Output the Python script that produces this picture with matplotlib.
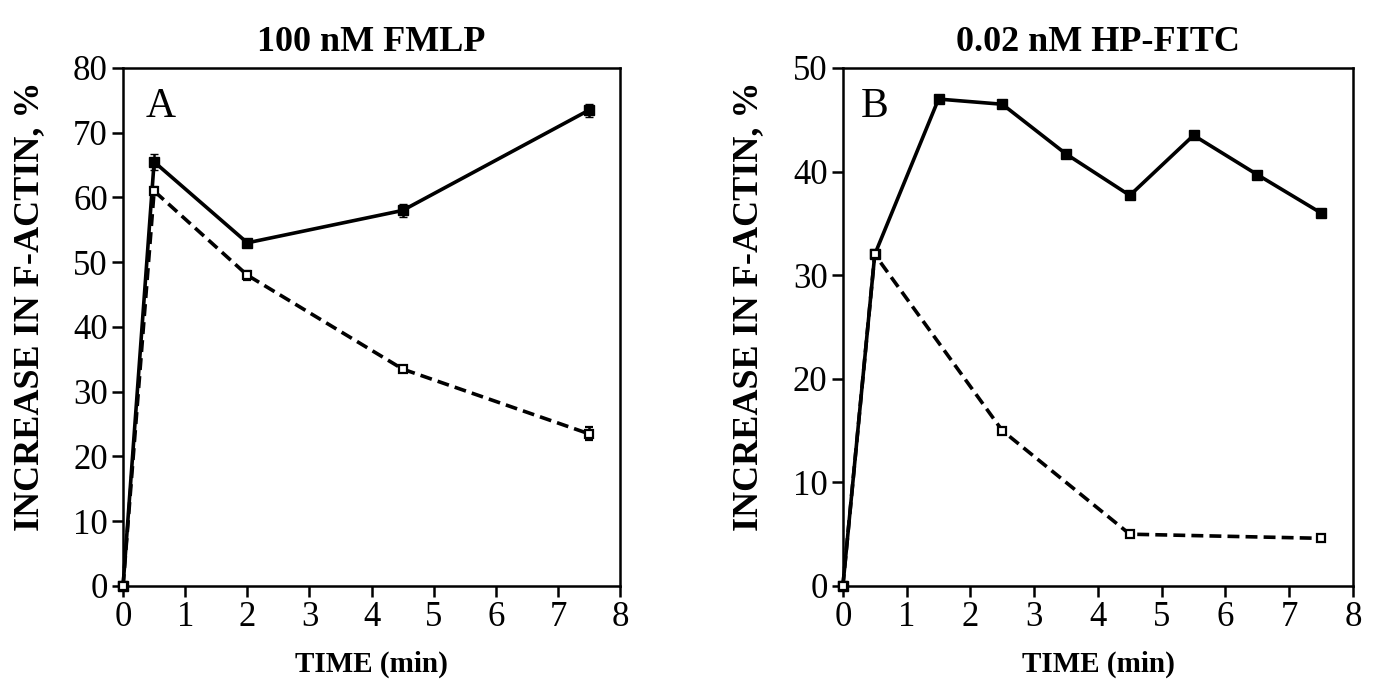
import matplotlib
matplotlib.use("Agg")
import matplotlib.pyplot as plt

# Panel A data
a_time_solid = [0, 0.5, 2, 4.5, 7.5]
a_solid = [0, 65.5, 53, 58, 73.5]
a_solid_err = [0, 1.2, 0.5, 1.0, 1.0]
a_time_dash = [0, 0.5, 2, 4.5, 7.5]
a_dash = [0, 61, 48, 33.5, 23.5]
a_dash_err = [0, 0.6, 0.7, 0.5, 1.0]

# Panel B data
b_time_solid = [0, 0.5, 1.5, 2.5, 3.5, 4.5, 5.5, 6.5, 7.5]
b_solid = [0, 32, 47, 46.5, 41.7, 37.7, 43.5, 39.7, 36]
b_time_dash = [0, 0.5, 2.5, 4.5, 7.5]
b_dash = [0, 32, 15, 5, 4.6]

titles = ["100 nM FMLP", "0.02 nM HP-FITC"]
panel_letters = ["A", "B"]
ylabel = "INCREASE IN F-ACTIN, %"
xlabel = "TIME (min)"

plt.rcParams['font.family'] = ['Liberation Serif', 'DejaVu Serif']
fig = plt.figure(figsize=(13.75, 6.84), dpi=100)
axA = fig.add_axes([0.0895, 0.1433, 0.3615, 0.7573])
axB = fig.add_axes([0.613, 0.1433, 0.371, 0.7573])

lw = 2.6
dash = (0, (3.3, 1.7))
for ax in (axA, axB):
    ax.set_xlim(0, 8)
    ax.set_xticks(range(0, 9))
    for s in ax.spines.values():
        s.set_linewidth(1.8)
    ax.tick_params(direction='out', length=8, width=1.8, labelsize=25, pad=3)
    ax.set_xlabel(xlabel, fontsize=21, fontweight='bold', labelpad=12)
    ax.set_ylabel(ylabel, fontsize=26, fontweight='bold')
axA.yaxis.set_label_coords(-0.155, 0.54)
axB.yaxis.set_label_coords(-0.152, 0.54)

# Panel A
axA.errorbar(a_time_solid, a_solid, yerr=a_solid_err, color='black', lw=lw, marker='s',
             ms=7, mfc='black', capsize=3, elinewidth=1.8, clip_on=False, zorder=3)
axA.errorbar(a_time_dash, a_dash, yerr=a_dash_err, color='black', lw=lw, ls=dash,
             marker='s', ms=6, mfc='white', mew=1.6, capsize=3, elinewidth=1.8,
             clip_on=False, zorder=3)
axA.set_ylim(0, 80)
axA.set_yticks(range(0, 81, 10))
axA.set_title(titles[0], fontsize=26, fontweight='bold', pad=12)
axA.text(0.045, 0.925, panel_letters[0], transform=axA.transAxes, fontsize=30, va='center')

# Panel B
axB.plot(b_time_solid, b_solid, color='black', lw=lw, marker='s', ms=7, mfc='black',
         clip_on=False, zorder=3)
axB.plot(b_time_dash, b_dash, color='black', lw=lw, ls=dash, marker='s', ms=6,
         mfc='white', mew=1.6, clip_on=False, zorder=3)
axB.set_ylim(0, 50)
axB.set_yticks(range(0, 51, 10))
axB.set_title(titles[1], fontsize=26, fontweight='bold', pad=12)
axB.text(0.035, 0.925, panel_letters[1], transform=axB.transAxes, fontsize=30, va='center')

fig.savefig("out.png", dpi=100)
